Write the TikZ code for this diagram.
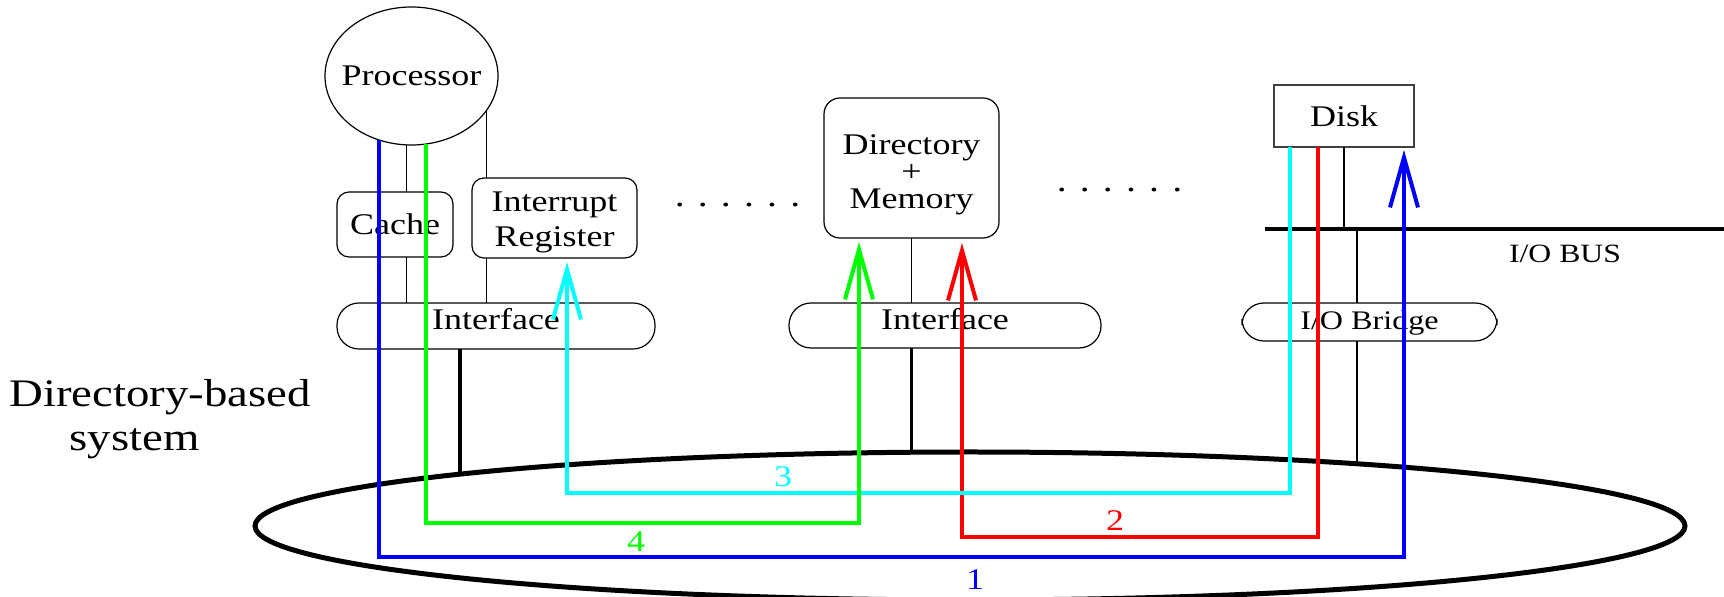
\documentclass[tikz,border=0pt]{standalone}
\usepackage{fontspec}
\setmainfont{Liberation Serif}[FakeStretch=1.2]
\usepackage{xcolor}
\usepackage{tikz}
\usetikzlibrary{positioning,arrows.meta,shapes.geometric}

\definecolor{msgblue}{RGB}{0,0,255}
\definecolor{msgred}{RGB}{255,0,0}
\definecolor{msgcyan}{RGB}{0,255,255}
\definecolor{msggreen}{RGB}{0,255,0}

\begin{document}
\begin{tikzpicture}[x=0.5pt,y=-0.5pt,
    every node/.style={font=\fontsize{15}{17.5}\selectfont,inner sep=0pt,outer sep=0pt},
    box/.style={draw,line width=0.6pt,rounded corners=6pt},
    face/.style={draw,line width=0.6pt,rounded corners=11pt,text height=10.5pt,text depth=6.5pt},
    wire/.style={line width=0.6pt},
    link/.style={line width=1.6pt},
    msg/.style={line width=2pt,-{Straight Barb[length=25pt,width=14pt]}},
    num/.style={font=\fontsize{15}{15}\selectfont},
    dots/.style={font=\fontsize{16.5}{16.5}\selectfont}]
    \useasboundingbox (0,0) rectangle (1724,597);

    % the system ring
    \node[ellipse,draw,line width=2.5pt,minimum width=715pt,minimum height=74pt] (sys) at (970,526) {};
    \node[anchor=base,font=\fontsize{19.5}{22}\selectfont] (title) at (160,407) {Directory-based};
    \node[anchor=base,font=\fontsize{19.5}{22}\selectfont] (title2) at (134.5,451) {system};

    % processor side
    \node[ellipse,draw,line width=0.6pt,inner xsep=-12pt,minimum width=86.5pt,minimum height=69pt] (proc) at (411.5,76) {Processor};
    \node[box,minimum width=58pt,minimum height=32.5pt] (cache) at (395,224.5) {Cache};
    \node[box,align=center,minimum width=82.5pt,minimum height=40pt] (ireg) at (554.5,218)
        {\rule{0pt}{14pt}Interrupt\\Register};
    \node[face,minimum width=159pt,minimum height=23pt] (if1) at (496,326) {Interface};

    % memory side
    \node[box,rounded corners=8pt,minimum width=87.5pt,minimum height=70pt,
        label={[align=center,font=\fontsize{15}{13.5}\selectfont,yshift=-3.5pt]center:Directory\\+\\Memory}] (dirmem) at (911.5,168) {};
    \node[face,minimum width=156pt,minimum height=22.5pt] (if2) at (945,325.5) {Interface};

    % disk side
    \node[draw=black!75,line width=0.6pt,minimum width=70pt,minimum height=31pt] (disk) at (1344,116) {Disk};
    \node[face,font=\fontsize{13.4}{15}\selectfont,text height=9.5pt,text depth=1.5pt,minimum width=127.5pt,minimum height=19pt] (bridge) at (1369.5,322) {I/O Bridge};
    \coordinate (busL) at (1265,229);
    \coordinate (busR) at (1724,229);
    \coordinate (tap) at (1357,229);
    \node[anchor=base,font=\fontsize{13.2}{15}\selectfont] (buslbl) at (1565,263) {I/O BUS};

    \node[dots] (dotsL) at (737.5,205) {. . . . . .};
    \node[dots] (dotsR) at (1119.5,190) {. . . . . .};

    % plain wiring
    \draw[wire] (proc.266) -- (proc.266 |- cache.north);
    \draw[wire] (proc.266 |- cache.south) -- (proc.266 |- if1.north);
    \draw[wire] (proc.335) -- (proc.335 |- ireg.north);
    \draw[wire] (proc.335 |- ireg.south) -- (proc.335 |- if1.north);
    \draw[wire] (dirmem.south) -- (dirmem.south |- if2.north);
    \draw[wire] (disk.south) -- (disk.south |- busL);
    \draw[wire] (tap) -- (tap |- bridge.north);
    \draw[wire] (tap |- bridge.south) -- (tap |- sys.9);
    \draw[line width=1.6pt] (busL) -- (busR);
    \draw[link] ([xshift=-18pt]if1.south) -- ([xshift=-18pt]if1.south |- sys.174);
    \draw[link] (dirmem.south |- if2.south) -- (dirmem.south |- sys.north);

    % transactions
    \coordinate (tip1) at ([xshift=-5pt,yshift=-1.5pt]disk.south east);
    \coordinate (tip2) at ([xshift=25.25pt,yshift=-2.5pt]dirmem.south);
    \coordinate (tip3) at ([xshift=6.25pt,yshift=-2pt]ireg.south);
    \coordinate (tip4) at ([xshift=-26.25pt,yshift=-2pt]dirmem.south);
    \draw[msg,msgblue] (proc.243) -- ++(0,417) -| (tip1);
    \draw[msg,msgred] ([xshift=22pt]disk.south west) -- ++(0,390) -| (tip2);
    \draw[msg,msgcyan] ([xshift=8pt]disk.south west) -- ++(0,346) -| (tip3);
    \draw[msg,msggreen] (proc.282) -- ++(0,379) -| (tip4);
    \node[num,msgblue] (n1) at (975,580) {1};
    \node[num,msgred] (n2) at (1115,521) {2};
    \node[num,msgcyan] (n3) at (783,477) {3};
    \node[num,msggreen] (n4) at (636,542) {4};
\end{tikzpicture}
\end{document}
